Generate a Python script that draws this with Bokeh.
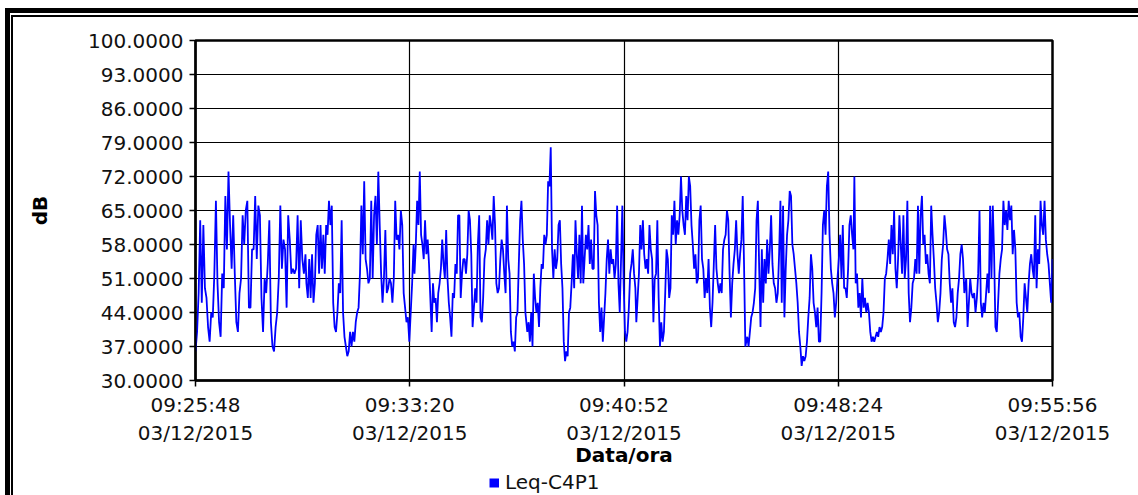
import numpy as np
from datetime import datetime, timedelta
from bokeh.plotting import figure
from bokeh.layouts import column
from bokeh.models import (FixedTicker, NumeralTickFormatter, Legend, LegendItem, Range1d)
from bokeh.embed import file_html
from bokeh.resources import INLINE

# ---------------- data ----------------
START = "2015-12-03 09:25:48"
DURATION_S = 1808
TICK_STEP_S = 452
Y_TICKS = [30, 37, 44, 51, 58, 65, 72, 79, 86, 93, 100]
SERIES_NAME = "Leq-C4P1"
X_LABEL = "Data/ora"
Y_LABEL = "dB"

# readings (dB) per time window (seconds after START)
win1 = (0, 232)
leq1 = [36, 40, 48, 63, 46, 62, 49, 47, 41, 38, 44, 43, 52, 67, 50, 42, 39, 52, 49, 68,
        57, 73, 62, 53, 64, 52, 42, 40, 48, 51, 64, 58, 65, 67, 45, 45, 57, 57, 68, 55,
        66, 64, 47, 40, 51, 48, 54, 63, 42, 37, 36, 41, 44, 51, 66, 53, 59, 57, 45, 64,
        59, 52, 53, 52, 53, 64, 49, 63, 55, 52, 56]
win2 = (234, 460)
leq2 = [50, 47, 55, 47, 56, 46, 50, 60, 62, 52, 62, 53, 60, 52, 62, 60, 67, 62, 66, 46,
        41, 40, 44, 50, 48, 63, 44, 39, 37, 35, 36, 40, 37, 40, 38, 42, 44, 45, 52, 66,
        56, 71, 55, 53, 50, 51, 67, 51, 64, 68, 58, 73, 62, 52, 46, 51, 61, 48, 49, 51,
        50, 46, 51, 67, 59, 60, 57, 65, 62, 48, 45, 42, 43, 38, 44, 50, 58]
win3 = (462, 696)
leq3 = [52, 58, 67, 62, 73, 60, 58, 55, 63, 56, 59, 54, 47, 40, 50, 46, 47, 42, 48, 50,
        53, 59, 54, 51, 61, 51, 46, 43, 39, 48, 47, 54, 52, 64, 64, 47, 52, 55, 55, 52,
        56, 65, 63, 56, 41, 45, 49, 46, 58, 64, 43, 42, 47, 55, 57, 63, 58, 64, 62, 59,
        68, 62, 50, 48, 49, 55, 59, 57, 52, 48, 66, 55, 52, 40, 37, 38, 36, 43, 44, 54,
        63, 67, 59, 54, 44]
win4 = (700, 928)
leq4 = [40, 42, 38, 44, 37, 52, 47, 44, 46, 41, 49, 54, 53, 60, 58, 60, 71, 70, 78, 57,
        51, 57, 53, 55, 62, 63, 54, 49, 38, 34, 36, 35, 44, 45, 50, 56, 49, 63, 56, 51,
        60, 50, 66, 50, 55, 60, 57, 62, 54, 59, 53, 53, 69, 64, 62, 46, 40, 45, 38, 43,
        48, 55, 59, 52, 57, 54, 55, 51, 54, 66, 50, 44, 55, 66, 50, 40, 38, 40, 45, 52,
        54, 57, 52, 49]
win5 = (930, 1160)
leq5 = [42, 47, 52, 62, 57, 63, 56, 53, 55, 52, 62, 57, 55, 42, 51, 52, 63, 47, 37, 42,
        38, 40, 48, 57, 55, 47, 49, 64, 60, 67, 58, 63, 60, 64, 72, 65, 62, 60, 68, 63,
        72, 70, 62, 58, 53, 56, 50, 51, 63, 66, 55, 53, 47, 51, 48, 55, 45, 41, 46, 54,
        62, 53, 50, 48, 50, 48, 57, 59, 60, 65, 63, 52, 43, 50, 54, 57, 63, 56, 52, 56,
        59, 68, 54, 37]
win6 = (1164, 1388)
leq6 = [39, 37, 40, 43, 44, 46, 49, 63, 67, 53, 41, 57, 46, 55, 50, 59, 52, 57, 64, 54,
        50, 49, 46, 48, 56, 67, 46, 66, 43, 53, 60, 63, 69, 68, 58, 56, 53, 50, 46, 40,
        37, 33, 35, 34, 35, 38, 43, 47, 56, 53, 46, 44, 41, 45, 38, 38, 48, 62, 65, 60,
        70, 73, 60, 53, 50, 48, 43, 46, 51, 55, 60, 51, 62, 49, 49, 47, 53, 62, 64, 60, 57]
win7 = (1390, 1622)
leq7 = [72, 50, 52, 45, 48, 43, 51, 45, 47, 44, 46, 44, 40, 38, 39, 38, 39, 40, 39, 41,
        40, 41, 44, 51, 52, 55, 59, 54, 62, 56, 65, 53, 49, 55, 64, 58, 52, 64, 51, 55,
        67, 48, 42, 45, 50, 51, 55, 52, 66, 52, 64, 68, 58, 60, 54, 56, 52, 50, 66, 60,
        55, 49, 46, 42, 44, 48, 55, 58, 64, 61, 57, 56, 50, 46, 49, 42, 41, 43, 48, 51,
        56, 58, 55, 48]
win8 = (1626, 1808)
leq8 = [51, 41, 46, 51, 48, 47, 48, 44, 47, 52, 65, 46, 43, 46, 44, 48, 52, 48, 66, 51,
        66, 56, 41, 40, 46, 52, 55, 57, 67, 62, 65, 61, 67, 63, 66, 56, 61, 57, 46, 43,
        44, 39, 38, 43, 50, 47, 44, 50, 54, 56, 53, 51, 64, 49, 57, 54, 67, 62, 60, 67,
        59, 56, 54, 50, 46, 55]

windows = [win1, win2, win3, win4, win5, win6, win7, win8]
readings = [leq1, leq2, leq3, leq4, leq5, leq6, leq7, leq8]

t = np.concatenate([np.linspace(w[0], w[1], len(r)) for w, r in zip(windows, readings)])
v = np.concatenate([np.array(r, dtype=float) for r in readings])

start_dt = datetime.strptime(START, "%Y-%m-%d %H:%M:%S")
x_ticks = list(range(0, DURATION_S + 1, TICK_STEP_S))
x_labels = {}
for tk in x_ticks:
    d = start_dt + timedelta(seconds=tk)
    x_labels[tk] = d.strftime("%H:%M:%S") + "\n" + d.strftime("%d/%m/%Y")

# ---------------- main figure ----------------
FONT = "DejaVu Sans"
FS = "20px"
BLUE = "#0000FF"

p = figure(width=1138, height=470, output_backend="svg", toolbar_location=None,
           x_range=Range1d(0, DURATION_S), y_range=Range1d(Y_TICKS[0], Y_TICKS[-1]),
           min_border_left=195, min_border_right=86, min_border_top=40,
           min_border_bottom=90, background_fill_color="white",
           border_fill_color="white", border_fill_alpha=0)

p.line(t, v, line_color=BLUE, line_width=1.8)

p.xaxis.ticker = FixedTicker(ticks=x_ticks)
p.xaxis.major_label_overrides = x_labels
p.yaxis.ticker = FixedTicker(ticks=Y_TICKS)
p.yaxis.formatter = NumeralTickFormatter(format="0.0000")
for ax in (p.xaxis, p.yaxis):
    ax.minor_tick_line_color = None
    ax.major_tick_out = 6
    ax.major_tick_in = 0
    ax.major_tick_line_color = "black"
    ax.major_tick_line_width = 1.5
    ax.axis_line_color = "black"
    ax.axis_line_width = 2
    ax.major_label_text_font = FONT
    ax.major_label_text_font_size = FS
    ax.major_label_text_color = "#111111"
    ax.axis_label_text_font = FONT
    ax.axis_label_text_font_size = FS
    ax.axis_label_text_font_style = "bold"
    ax.axis_label_text_color = "black"
p.xaxis.axis_label = X_LABEL
p.yaxis.axis_label = Y_LABEL
p.xaxis.major_label_standoff = 6
p.xaxis.axis_label_standoff = -5
p.yaxis.major_label_standoff = 6
p.yaxis.axis_label_standoff = 33

p.xgrid.ticker = FixedTicker(ticks=x_ticks)
p.ygrid.ticker = FixedTicker(ticks=Y_TICKS)
for g in (p.xgrid, p.ygrid):
    g.grid_line_color = "black"
    g.grid_line_width = 1.2
    g.grid_line_alpha = 1

p.outline_line_color = "black"
p.outline_line_width = 2.5
p.outline_line_alpha = 1

# ---------------- legend strip ----------------
lg = figure(width=1138, height=25, output_backend="svg", toolbar_location=None,
            x_range=Range1d(0, 1), y_range=Range1d(0, 1),
            x_axis_type=None, y_axis_type=None,
            min_border_left=195, min_border_right=86, min_border_top=0,
            min_border_bottom=0, background_fill_alpha=0, border_fill_alpha=0)
lg.grid.visible = False
lg.outline_line_color = None
# same series; outside this strip's ranges, so only its legend swatch shows
swatch = lg.line(t, v, line_color=BLUE, line_width=9)
legend = Legend(items=[LegendItem(label=SERIES_NAME, renderers=[swatch])],
                location=(294, 1), orientation="horizontal",
                border_line_color=None, background_fill_alpha=0,
                label_text_font=FONT, label_text_font_size=FS,
                label_text_color="#111111",
                glyph_width=10, glyph_height=11, padding=0, margin=0,
                label_standoff=6)
lg.add_layout(legend)

page = column(p, lg, spacing=0)
# double frame line along the top and left edges of the picture
page.styles = {"box-shadow": "inset 5px 8px 0 0 #fff, inset 10px 13px 0 0 #000, "
                             "inset 11px 15px 0 0 #fff, inset 13px 17px 0 0 #000"}

open("out.html", "w").write(file_html(page, INLINE))
